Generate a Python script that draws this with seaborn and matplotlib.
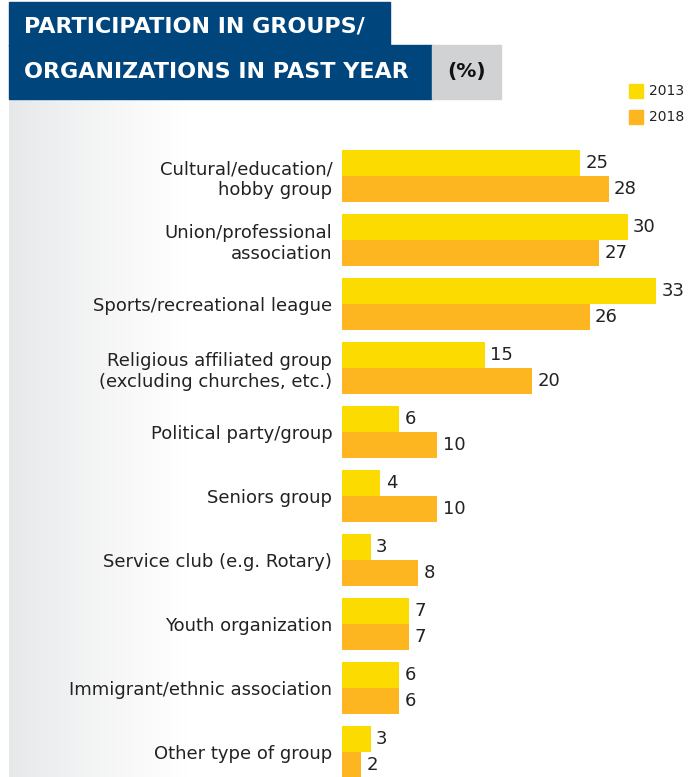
import numpy as np
import pandas as pd
import matplotlib
matplotlib.use("Agg")
import matplotlib.pyplot as plt
from matplotlib.patches import Rectangle
from matplotlib.colors import LinearSegmentedColormap
import seaborn as sns

# data
categories = [
    "Cultural/education/\nhobby group",
    "Union/professional\nassociation",
    "Sports/recreational league",
    "Religious affiliated group\n(excluding churches, etc.)",
    "Political party/group",
    "Seniors group",
    "Service club (e.g. Rotary)",
    "Youth organization",
    "Immigrant/ethnic association",
    "Other type of group",
]
years = ["2013", "2018"]
values_2013 = [25, 30, 33, 15, 6, 4, 3, 7, 6, 3]
values_2018 = [28, 27, 26, 20, 10, 10, 8, 7, 6, 2]

colors = {"2013": "#FCDC00", "2018": "#FDB520"}
blue = "#00457C"
grey = "#D1D2D4"

df = pd.DataFrame({
    "category": categories * 2,
    "year": [years[0]] * len(categories) + [years[1]] * len(categories),
    "value": values_2013 + values_2018,
})

sns.set_style("white")
plt.rcParams["font.family"] = ["DejaVu Sans"]

W, H = 695, 777
fig = plt.figure(figsize=(W / 100, H / 100), dpi=100)

# grey gradient behind the labels
bg = fig.add_axes([9 / W, 0, 180 / W, 1 - 100 / H])
grad = np.linspace(0, 1, 256)[None, :] ** 0.8
cmap = LinearSegmentedColormap.from_list("g", ["#E6E7E9", "#FFFFFF"])
bg.imshow(grad, aspect="auto", cmap=cmap, extent=[0, 1, 0, 1])
bg.axis("off")

# title boxes
def box(x0, y0, x1, y1, color):
    fig.patches.append(Rectangle((x0 / W, 1 - y1 / H), (x1 - x0) / W, (y1 - y0) / H,
                                 transform=fig.transFigure, color=color, zorder=0))

box(9, 2, 390, 46, blue)
box(9, 45, 432, 99, blue)
box(432, 45, 501, 99, grey)
fig.text(24 / W, 1 - 27 / H, "PARTICIPATION IN GROUPS/", color="white",
         fontsize=16, fontweight="bold", va="center", ha="left")
fig.text(24 / W, 1 - 72 / H, "ORGANIZATIONS IN PAST YEAR", color="white",
         fontsize=16, fontweight="bold", va="center", ha="left")
fig.text(467 / W, 1 - 72 / H, "(%)", color="#111111",
         fontsize=14.5, fontweight="bold", va="center", ha="center")

# legend
for i, yr in enumerate(years):
    yc = 91 + 26 * i
    fig.patches.append(Rectangle((629 / W, 1 - (yc + 7) / H), 14 / W, 14 / H,
                                 transform=fig.transFigure, color=colors[yr]))
    fig.text(649 / W, 1 - yc / H, yr, fontsize=10, va="center", ha="left", color="#222222")

# bars
ax = fig.add_axes([342 / W, 0, 1 - 342 / W, 1 - 144 / H])
ax.patch.set_alpha(0)
sns.barplot(data=df, x="value", y="category", hue="year", palette=colors,
            orient="h", width=0.8125, dodge=True, legend=False, ax=ax,
            saturation=1, linewidth=0)
for cont in ax.containers:
    ax.bar_label(cont, padding=4, fontsize=13, color="#222222")

ax.set_xlim(0, (W - 342) / 9.52)
ax.set_ylim(9.39, -0.5)
ax.set_xlabel("")
ax.set_ylabel("")
ax.set_xticks([])
ax.tick_params(axis="y", length=0, pad=7, labelsize=13, labelcolor="#222222")
for lbl in ax.get_yticklabels():
    lbl.set_ha("right")
    lbl.set_multialignment("right")
    lbl.set_linespacing(1.2)
sns.despine(ax=ax, left=True, bottom=True)

fig.savefig("out.png", dpi=100)
